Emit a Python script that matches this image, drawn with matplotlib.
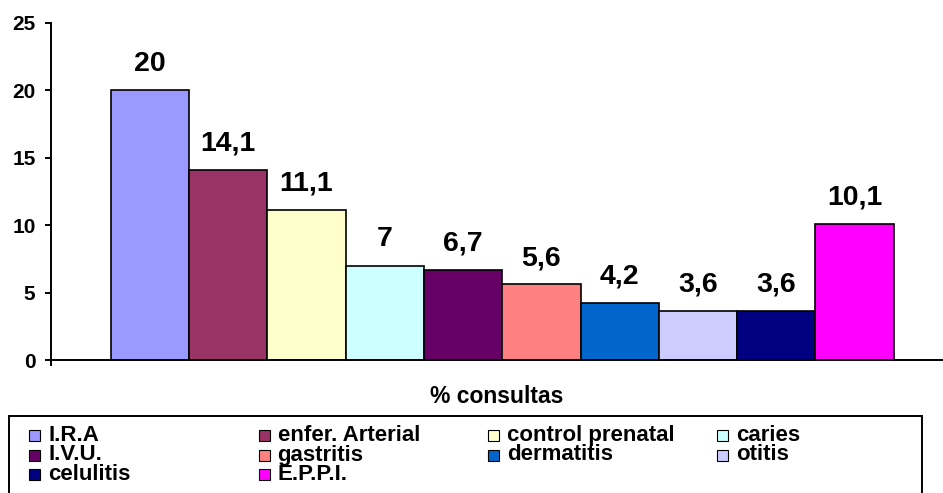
import matplotlib.pyplot as plt
from matplotlib.patches import Rectangle
import numpy as np

plt.rcParams['font.family'] = ['Liberation Sans', 'DejaVu Sans']
plt.rcParams['font.weight'] = 'bold'

# --- datos ---
categorias = ["I.R.A", "enfer. Arterial", "control prenatal", "caries", "I.V.U.",
              "gastritis", "dermatitis", "otitis", "celulitis", "E.P.P.I."]
porcentajes = [20, 14.1, 11.1, 7, 6.7, 5.6, 4.2, 3.6, 3.6, 10.1]
colores = ["#9999FF", "#993366", "#FFFFCC", "#CCFFFF", "#660066",
           "#FF8080", "#0066CC", "#CCCCFF", "#000080", "#FF00FF"]
yticks = [0, 5, 10, 15, 20, 25]

W, H = 943, 493
fig = plt.figure(figsize=(W / 100, H / 100), dpi=100)
ax = fig.add_axes([50.5 / W, 1 - 360 / H, (W - 50.5) / W, (360 - 22.7) / H])

x = np.arange(len(categorias))
ax.bar(x, porcentajes, width=1.0, color=colores, edgecolor="black", linewidth=1.2)

# etiquetas de valor con coma decimal
for xi, v in zip(x, porcentajes):
    ax.annotate(f"{v:g}".replace(".", ","), (xi, v), xytext=(0, 14),
                textcoords="offset points", ha="center", va="baseline",
                fontsize=20.5, fontweight="bold")

xmin, xmax = -1.27, 10.13
ax.set_xlim(xmin, xmax)
ax.set_ylim(0, 25)
ax.set_yticks(yticks)
ax.set_xticks([xmin])
ax.set_xticklabels([""])
ax.tick_params(axis="both", direction="out", length=4.3, width=1.4)
ax.tick_params(axis="y", labelsize=15, pad=6.5)
for lab in ax.get_yticklabels():
    lab.set_fontweight("bold")

for s in ["top", "right"]:
    ax.spines[s].set_visible(False)
for s in ["left", "bottom"]:
    ax.spines[s].set_linewidth(1.4)

ax.set_xlabel("% consultas", fontsize=16.5, fontweight="bold", va="baseline")
ax.xaxis.set_label_coords(0.5, -43 / 337.3)

# --- leyenda manual (4 columnas, orden por filas) ---
fig.add_artist(Rectangle((9 / W, -0.02), (922 - 9) / W, 0.02 + 1 - 416 / H,
                         transform=fig.transFigure, facecolor="white",
                         edgecolor="black", linewidth=1.4))
col_x = [29, 258.5, 488, 717]
fila_base = [441, 460.5, 480]
for i, (cat, col) in enumerate(zip(categorias, colores)):
    fila, c = divmod(i, 4)
    mx, by = col_x[c], fila_base[fila]
    fig.add_artist(Rectangle((mx / W, 1 - by / H), 11 / W, 11 / H,
                             transform=fig.transFigure, facecolor=col,
                             edgecolor="black", linewidth=0.8))
    fig.text((mx + 19) / W, 1 - by / H, cat, fontsize=16, fontweight="bold",
             ha="left", va="baseline")

fig.savefig("out.png", dpi=100)
